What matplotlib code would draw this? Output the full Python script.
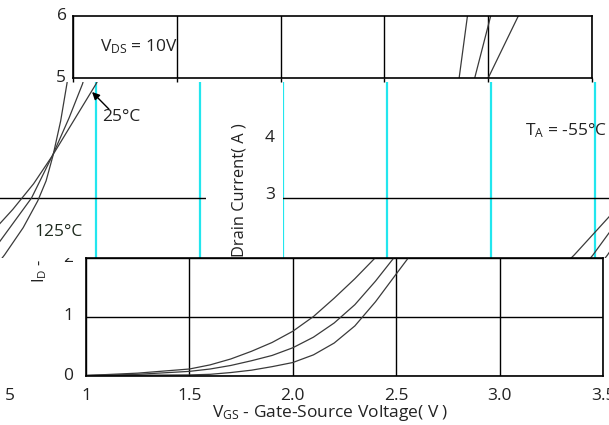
import matplotlib
matplotlib.use("Agg")
import matplotlib.pyplot as plt
from matplotlib.transforms import blended_transform_factory as blend

plt.rcParams['font.family'] = ['Open Sans', 'DejaVu Sans']
plt.rcParams['mathtext.fontset'] = 'custom'
plt.rcParams['mathtext.rm'] = 'Open Sans'
plt.rcParams['mathtext.it'] = 'Open Sans:italic'

W, H = 609, 425
ink = '#222222'
fs = 12.5

# Id (A) vs Vgs (V) at Vds = 10V
vgs_125 = [1.0, 1.25, 1.5, 1.6, 1.7, 1.8, 1.9, 2.0, 2.1, 2.2, 2.3, 2.4, 2.5, 2.6, 2.7, 2.79, 2.9, 3.0, 3.145]
id_125 = [0.0, 0.04, 0.11, 0.18, 0.28, 0.41, 0.56, 0.75, 1.0, 1.31, 1.64, 2.0, 2.4, 2.8, 3.25, 3.74, 4.4, 5.0, 6.0]
vgs_25 = [1.0, 1.25, 1.5, 1.6, 1.7, 1.8, 1.9, 2.0, 2.1, 2.2, 2.3, 2.4, 2.49, 2.6, 2.69, 2.79, 2.87, 2.935, 3.012]
id_25 = [0.0, 0.02, 0.07, 0.11, 0.17, 0.25, 0.34, 0.47, 0.65, 0.89, 1.2, 1.6, 2.0, 2.55, 3.0, 3.74, 4.4, 5.0, 6.0]
vgs_m55 = [1.0, 1.5, 1.6, 1.7, 1.8, 1.9, 2.0, 2.1, 2.2, 2.3, 2.4, 2.5, 2.56, 2.65, 2.72, 2.76, 2.793, 2.83, 2.86, 2.9]
id_m55 = [0.0, 0.01, 0.02, 0.05, 0.09, 0.15, 0.22, 0.35, 0.55, 0.84, 1.25, 1.72, 2.0, 2.48, 2.95, 3.3, 3.74, 4.35, 5.0, 6.0]

x_ticks = [1.0, 1.5, 2.0, 2.5, 3.0, 3.5]
x_labels = ['1', '1.5', '2.0', '2.5', '3.0', '3.5']

fig = plt.figure(figsize=(W / 100, H / 100), dpi=100)


def rect(x0, y0, x1, y1):
    # pixel box (top-left origin) -> figure fraction
    return [x0 / W, 1 - y1 / H, (x1 - x0) / W, (y1 - y0) / H]


def strip(y0, y1):
    a = fig.add_axes(rect(0, y0, W, y1))
    a.set_axis_off()
    return a


# the picture is three horizontal bands cut from shifted copies of the chart
clipA = strip(0, 82)
clipB = strip(82, 258)
clipC = strip(258, H)


def txt(ax, x, y, s, clip, trans=None, **kw):
    kw.setdefault('color', ink)
    kw.setdefault('fontsize', fs)
    t = ax.text(x, y, s, transform=trans or ax.transData, **kw)
    t.set_clip_box(clip.bbox)
    t.set_clip_on(True)
    return t


def curves(ax):
    for v, i in [(vgs_125, id_125), (vgs_25, id_25), (vgs_m55, id_m55)]:
        ax.plot(v, i, color='#3a3a3a', lw=0.9)


def px_y(ax):
    return blend(fig.transFigure, ax.transData)


def x_py(ax):
    return blend(ax.transData, fig.transFigure)


# ---- top band: 5..6 A
axA = fig.add_axes(rect(73, 16, 592, 78))
axA.set_xticks(x_ticks)
axA.set_yticks([])
axA.set_xlim(1, 3.5)
axA.set_ylim(5, 6)
axA.tick_params(axis='x', direction='out', length=3, width=1, labelbottom=False)
axA.grid(axis='x', color='black', lw=1)
for s in axA.spines.values():
    s.set_linewidth(1.2)
curves(axA)
txt(axA, 67 / W, 6, '6', clipA, trans=px_y(axA), ha='right', va='center')
txt(axA, 66 / W, 5, '5', clipA, trans=px_y(axA), ha='right', va='center')
txt(axA, 1.13, 5.5, 'V$_{\\rm DS}$ = 10V', clipA, ha='left', va='center')

# ---- middle band, left piece (around the crossing point)
ylim_B = (3 - 60 / 57, 3 + 116 / 57)
axBL = fig.add_axes(rect(0, 82, 206, 258))
axBL.set_xticks(x_ticks)
axBL.set_yticks([3])
axBL.set_xlim(3.0 - 96 / 208, 3.0 + 110 / 208)
axBL.set_ylim(*ylim_B)
axBL.grid(axis='x', color='#22e6ee', lw=1.6)
axBL.grid(axis='y', color='black', lw=1)
axBL.tick_params(length=0, labelbottom=False, labelleft=False)
for s in axBL.spines.values():
    s.set_visible(False)
axBL.patch.set_alpha(0)
curves(axBL)
txt(axBL, 3.12, 4.42, '25°C', clipB, ha='center', va='center')
txt(axBL, 2.822, 2.40, '125°C', clipB, ha='center', va='center', color='#1e2a1e')
axBL.annotate('', xy=(2.981, 4.86), xytext=(3.062, 4.56),
              arrowprops=dict(arrowstyle='-|>', color='black', lw=1,
                              mutation_scale=11, shrinkA=0, shrinkB=0))

# ---- middle band, right piece (left edge of the chart)
axBR = fig.add_axes(rect(283, 82, 283 + 2.5 * 208, 258))
axBR.set_xticks(x_ticks)
axBR.set_yticks([3, 4])
axBR.set_xlim(1, 3.5)
axBR.set_ylim(*ylim_B)
axBR.grid(axis='x', color='#22e6ee', lw=1.6)
axBR.grid(axis='y', color='black', lw=1)
axBR.get_ygridlines()[1].set_visible(False)
axBR.tick_params(length=0, labelbottom=False, labelleft=False)
for s in axBR.spines.values():
    s.set_visible(False)
axBR.patch.set_alpha(0)
curves(axBR)
for v in [3, 4]:
    txt(axBR, 270 / W, v + 0.06, str(v), clipB, trans=px_y(axBR), ha='center', va='center')
txt(axBR, 2.163, 4.19, 'T$_{\\rm A}$ = -55°C', clipB, ha='left', va='center')
# y axis title, upper part of it shows in this band
txt(clipB, 240 / W, 1 - 257 / H, 'Drain Current( A )', clipB, trans=fig.transFigure,
    rotation=90, ha='center', va='bottom', fontsize=11.8)

# ---- bottom band: 0..2 A
axC = fig.add_axes(rect(86, 257.5, 603, 375.5))
axC.set_xticks(x_ticks)
axC.set_yticks([0, 1, 2])
axC.set_xlim(1, 3.5)
axC.set_ylim(0, 2)
axC.grid(color='black', lw=1)
axC.tick_params(length=0, labelbottom=False, labelleft=False)
for s in axC.spines.values():
    s.set_linewidth(1.2)
curves(axC)
for v, lab in zip(x_ticks, x_labels):
    txt(axC, v, 1 - 396 / H, lab, clipC, trans=x_py(axC), ha='center', va='center')
for v in [0, 1, 2]:
    txt(axC, 68.5 / W, v, str(v), clipC, trans=px_y(axC), ha='center', va='center')
txt(clipC, 10 / W, 1 - 396 / H, '5', clipC, trans=fig.transFigure, ha='center', va='center')
txt(clipC, 330 / W, 1 - 413 / H, 'V$_{\\rm GS}$ - Gate-Source Voltage( V )', clipC,
    trans=fig.transFigure, ha='center', va='center')
# lower part of the y axis title
txt(clipC, 40 / W, 1 - 283 / H, 'I$_{\\rm D}$ -', clipC, trans=fig.transFigure,
    rotation=90, ha='center', va='bottom', fontsize=11.8)

fig.savefig('out.png', dpi=100)
